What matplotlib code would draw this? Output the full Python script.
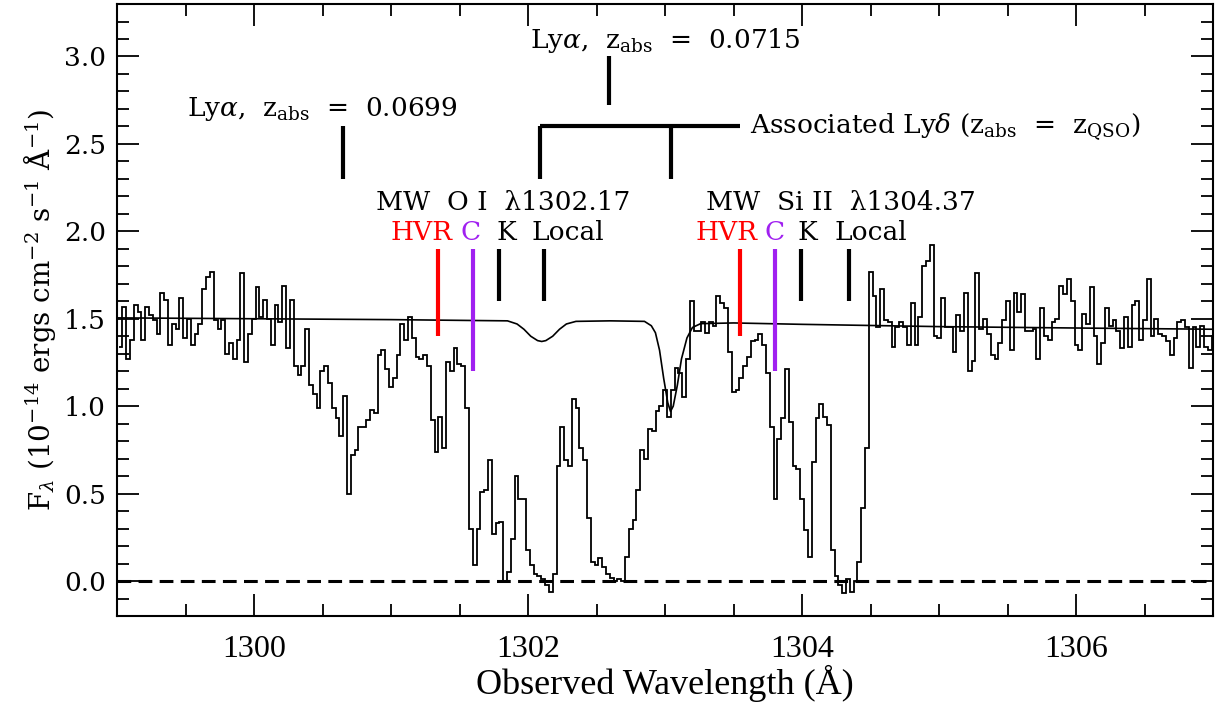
import numpy as np
import matplotlib
matplotlib.use('Agg')
import matplotlib.pyplot as plt
from matplotlib.ticker import MultipleLocator, FormatStrFormatter

plt.rcParams['mathtext.fontset'] = 'dejavuserif'

# spectrum: regular pixel grid, flux in 1e-14 erg/cm2/s/A (read per pixel)
wave_start = 1299.011
wave_step = 0.0278

flux_blue = [1.34, 1.57, 1.27, 1.38, 1.58, 1.54, 1.38, 1.57, 1.52, 1.49, 1.41, 1.65,
             1.61, 1.35, 1.47, 1.44, 1.62, 1.39, 1.50, 1.35, 1.41, 1.47, 1.67, 1.74,
             1.77, 1.49, 1.44, 1.49, 1.30, 1.36, 1.27, 1.38, 1.76, 1.25, 1.41, 1.50,
             1.68, 1.51, 1.61, 1.50, 1.35, 1.58, 1.48, 1.69, 1.33, 1.61, 1.23, 1.18]
flux_lya1 = [1.23, 1.44, 1.12, 1.07, 0.99, 1.20, 1.23, 1.13, 0.99, 0.93, 0.83, 1.06,
             0.50, 0.72, 0.75, 0.88, 0.88, 0.92, 0.98, 0.96, 1.29, 1.32, 1.21, 1.11,
             1.16, 1.29, 1.47, 1.38, 1.51, 1.39, 1.28, 1.27, 1.29, 1.23, 0.92, 0.74,
             0.94, 0.76, 1.25, 1.20, 1.33, 1.24, 1.23, 0.99, 0.30, 0.09, 0.30]
flux_oi = [0.51, 0.52, 0.69, 0.27, 0.33, 0.34, 0.00, 0.05, 0.24, 0.60, 0.47, 0.47,
           0.18, 0.09, 0.04, 0.03, 0.01, -0.02, -0.06, 0.04, 0.66, 0.88, 0.69, 0.66,
           1.04, 0.99, 0.76, 0.69, 0.36, 0.11, 0.09, 0.13, 0.08, 0.04, 0.02, 0.00,
           0.01, 0.00, 0.14, 0.30, 0.35, 0.52, 0.75, 0.70, 0.87, 0.86, 0.97, 1.00]
flux_siii = [1.09, 0.94, 1.09, 1.22, 1.19, 1.05, 1.27, 1.60, 1.43, 1.43, 1.48, 1.42,
             1.48, 1.46, 1.63, 1.59, 1.56, 1.31, 1.08, 1.09, 1.16, 1.23, 1.28, 1.37,
             1.38, 1.41, 1.35, 1.19, 0.88, 0.47, 0.81, 0.93, 1.21, 0.91, 0.66, 0.64,
             0.47, 0.29, 0.14, 0.68, 0.93, 1.01, 0.94, 0.89, 0.18, 0.03, -0.02, -0.07,
             0.01, -0.06, 0.00, 0.11, 0.42, 0.76]
flux_red1 = [1.77, 1.63, 1.45, 1.67, 1.49, 1.48, 1.34, 1.45, 1.48, 1.45, 1.35, 1.59,
             1.35, 1.51, 1.80, 1.83, 1.92, 1.40, 1.39, 1.62, 1.45, 1.45, 1.31, 1.52,
             1.43, 1.65, 1.20, 1.26, 1.76, 1.44, 1.50, 1.41, 1.29, 1.27, 1.36, 1.49,
             1.60, 1.32, 1.65, 1.54, 1.64, 1.43, 1.43, 1.44, 1.27, 1.56]
flux_red2 = [1.40, 1.38, 1.48, 1.50, 1.69, 1.64, 1.73, 1.60, 1.35, 1.32, 1.53, 1.47,
             1.68, 1.40, 1.24, 1.36, 1.56, 1.46, 1.49, 1.43, 1.33, 1.51, 1.34, 1.58,
             1.60, 1.38, 1.49, 1.73, 1.40, 1.50, 1.41, 1.40, 1.37, 1.29, 1.39, 1.48,
             1.49, 1.45, 1.22, 1.45, 1.34, 1.46, 1.34, 1.32, 1.40, 1.58]

# continuum / model curve
cont_wave = [1299.0, 1300.0, 1301.0, 1301.6, 1301.85, 1301.92, 1301.97, 1302.02,
             1302.07, 1302.10, 1302.13, 1302.18, 1302.23, 1302.28, 1302.35, 1302.6,
             1302.85, 1302.90, 1302.93, 1302.96, 1302.99, 1303.02, 1303.04, 1303.06,
             1303.09, 1303.12, 1303.16, 1303.20, 1303.26, 1303.5, 1304.0, 1305.0,
             1306.0, 1307.0]
cont_flux = [1.505, 1.50, 1.495, 1.49, 1.488, 1.47, 1.44, 1.40,
             1.375, 1.37, 1.375, 1.40, 1.44, 1.47, 1.485, 1.488,
             1.485, 1.46, 1.42, 1.32, 1.16, 1.02, 0.97, 1.00,
             1.12, 1.27, 1.39, 1.45, 1.472, 1.476, 1.468, 1.455,
             1.447, 1.44]

# absorption component markers
comp_labels = ['HVR', 'C', 'K', 'Local']
comp_colors = ['#ff0000', '#a020f0', 'black', 'black']
comp_bottom = [1.40, 1.20, 1.60, 1.60]
comp_top = 1.90
oi_wave = [1301.34, 1301.60, 1301.79, 1302.12]
oi_label_x = [1301.22, 1301.58, 1301.84, 1302.29]
siii_wave = [1303.55, 1303.80, 1303.99, 1304.34]
siii_label_x = [1303.45, 1303.80, 1304.04, 1304.50]

lya_wave = [1300.65, 1302.59]
lya_bottom = [2.30, 2.72]
lya_top = [2.60, 3.00]
lya_z = ['0.0699', '0.0715']
lya_label_x = [1300.50, 1303.00]
lya_label_y = [2.66, 3.05]

assoc_wave = [1302.09, 1303.04]
assoc_end = 1303.55

serif = 'DejaVu Serif'
fs = 19

fig = plt.figure(figsize=(12.2, 7.06), dpi=100)
ax = fig.add_axes([0.0959, 0.1275, 0.8984, 0.8668])

flux = np.concatenate([flux_blue, flux_lya1, flux_oi, flux_siii, flux_red1, flux_red2])
edges = wave_start + wave_step * np.arange(len(flux) + 1)
ax.stairs(flux, edges, baseline=None, color='black', lw=1.3)
ax.plot(cont_wave, cont_flux, color='black', lw=1.2)
ax.axhline(0, color='black', lw=2.2, linestyle=(0, (4.5, 2.4)))

# MW component ticks and labels
for waves, lx in ((oi_wave, oi_label_x), (siii_wave, siii_label_x)):
    for w, x, lab, c, b in zip(waves, lx, comp_labels, comp_colors, comp_bottom):
        ax.vlines(w, b, comp_top, color=c, lw=3)
        ax.text(x, 1.95, lab, color=c, ha='center', va='baseline',
                fontsize=fs, family=serif)
ax.text(1301.82, 2.12, 'MW  O I  λ1302.17', ha='center', va='baseline',
        fontsize=fs, family=serif)
ax.text(1304.28, 2.12, 'MW  Si II  λ1304.37', ha='center', va='baseline',
        fontsize=fs, family=serif)

# intervening Lya absorbers
for w, b, t, z, lx, ly in zip(lya_wave, lya_bottom, lya_top, lya_z,
                              lya_label_x, lya_label_y):
    ax.vlines(w, b, t, color='black', lw=3)
    ax.text(lx, ly, r'Ly$\alpha$,  z$_{\rm abs}$  =  ' + z, ha='center',
            va='baseline', fontsize=fs, family=serif)

# associated Ly delta bracket
ax.vlines(assoc_wave, 2.30, 2.60, color='black', lw=3)
ax.hlines(2.60, assoc_wave[0], assoc_end, color='black', lw=3)
ax.text(1303.62, 2.555,
        r'Associated Ly$\delta$ (z$_{\rm abs}$  =  z$_{\rm QSO}$)',
        ha='left', va='baseline', fontsize=fs, family=serif)

ax.set_xlim(1299, 1307)
ax.set_ylim(-0.2, 3.3)
ax.xaxis.set_major_locator(MultipleLocator(2))
ax.xaxis.set_minor_locator(MultipleLocator(0.5))
ax.yaxis.set_major_locator(MultipleLocator(0.5))
ax.yaxis.set_minor_locator(MultipleLocator(0.1))
ax.yaxis.set_major_formatter(FormatStrFormatter('%.1f'))
ax.tick_params(which='both', direction='in', top=True, right=True, width=1.3)
ax.tick_params(which='major', length=16)
ax.tick_params(which='minor', length=8.5)
ax.tick_params(axis='x', which='major', pad=14)
ax.tick_params(axis='y', which='major', pad=8)
for lab in ax.get_xticklabels():
    lab.set_family('Liberation Serif')
    lab.set_fontsize(23)
for lab in ax.get_yticklabels():
    lab.set_family(serif)
    lab.set_fontsize(19)
for sp in ax.spines.values():
    sp.set_linewidth(1.5)

ax.set_xlabel('Observed Wavelength (Å)', family='Liberation Serif', fontsize=26,
              labelpad=0)
ax.set_ylabel(r'F$_\lambda$ (10$^{-14}$ ergs cm$^{-2}$ s$^{-1}$ Å$^{-1}$)',
              family=serif, fontsize=20, labelpad=4)

fig.savefig('out.png', dpi=100)
